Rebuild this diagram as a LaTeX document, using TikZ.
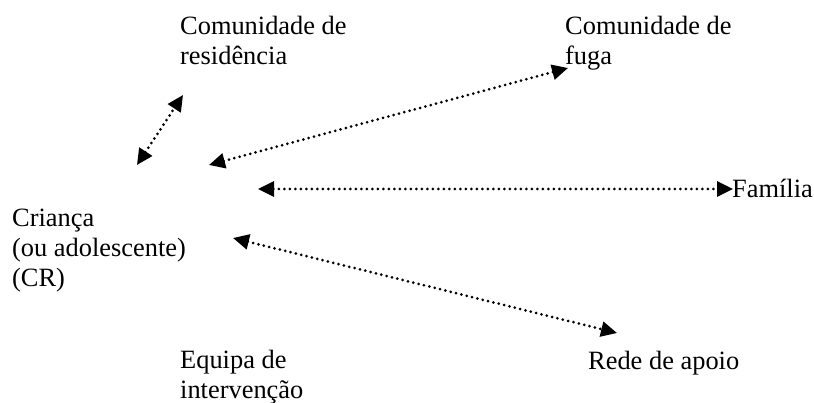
\documentclass[tikz,border=0pt]{standalone}
\usepackage{fontspec}
\setmainfont{Liberation Serif}
\usetikzlibrary{arrows.meta}
\begin{document}
\begin{tikzpicture}[x=1pt,y=-1pt,
  lbl/.style={anchor=base west, inner sep=0pt, align=left,
    font=\fontsize{26.4pt}{30pt}\selectfont},
  link/.style={line width=3pt, line cap=round, dash pattern=on 0pt off 5.5pt,
    {Triangle[length=16pt,width=15pt]}-{Triangle[length=16pt,width=15pt]}}]
\useasboundingbox (0,0) rectangle (814,403);
\node[lbl] (res) at (180,65) {Comunidade de\\residência};
\node[lbl] (fuga) at (565,65) {Comunidade de\\fuga};
\node[lbl] (fam) at (732,198) {Família};
\node[lbl] (cr) at (12,287) {Criança\\(ou adolescente)\\(CR)};
\node[lbl] (eq) at (180,398) {Equipa de\\intervenção};
\node[lbl] (rede) at (588,370) {Rede de apoio};
\coordinate (a1) at (137,165);
\coordinate (b1) at (183,95);
\coordinate (a2) at (209,165);
\coordinate (b2) at (568,68);
\coordinate (a3) at (258,189);
\coordinate (b3) at (733,189);
\coordinate (a4) at (233,238);
\coordinate (b4) at (617,333);
\draw[link] (a1) -- (b1);
\draw[link] (a2) -- (b2);
\draw[link] (a3) -- (b3);
\draw[link] (a4) -- (b4);
\end{tikzpicture}
\end{document}
